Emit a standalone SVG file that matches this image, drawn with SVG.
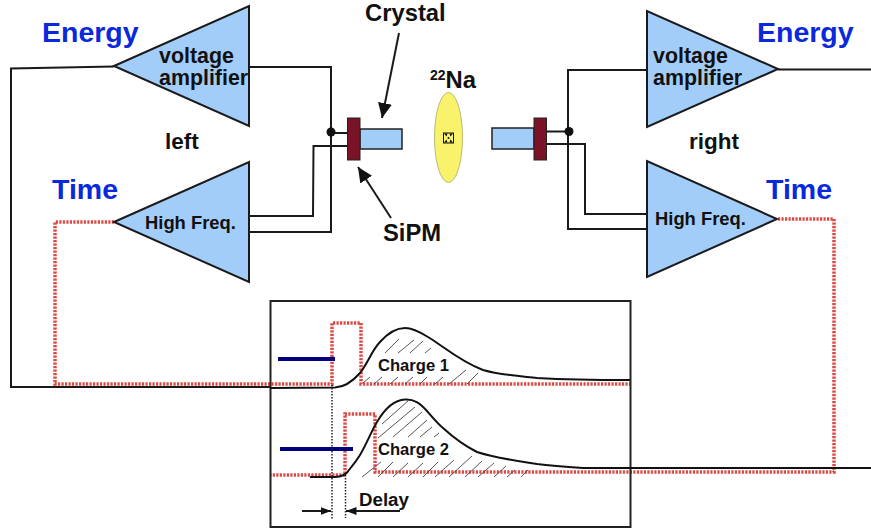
<svg xmlns="http://www.w3.org/2000/svg" width="871" height="530" viewBox="0 0 871 530">
<style>
text{font-family:"Liberation Sans",Arial,sans-serif;font-weight:bold;fill:#111}
.tri{fill:#a3cdf9;stroke:#1a1a1a;stroke-width:2;stroke-linejoin:miter}
.wire{fill:none;stroke:#1a1a1a;stroke-width:2}
.red{fill:none;stroke:#dc4a46;stroke-width:3.500;stroke-dasharray:2.200 1.300}
.hatch{fill:none;stroke:#444;stroke-width:.9}
.sig{fill:none;stroke:#111;stroke-width:2}
.base{fill:none;stroke:#00007f;stroke-width:4}
.vd{fill:none;stroke:#222;stroke-width:1.500;stroke-dasharray:1.500 1.500}
.blue{fill:#0a28dc;font-size:28.500px}
.amp{font-size:21.400px}
.hf{font-size:18.400px}
.lbl{font-size:23.800px}
.crys{fill:#a3cdf9;stroke:#222;stroke-width:1.500}
.sipm{fill:#7a1328;stroke:#222;stroke-width:1}
.q{font-size:16.600px}
</style>
<defs>
<marker id="ah" markerUnits="userSpaceOnUse" markerWidth="16" markerHeight="14" refX="15" refY="7" orient="auto"><path d="M0 0L15 7L0 14Z" fill="#111"/></marker>
<marker id="as" markerUnits="userSpaceOnUse" markerWidth="11" markerHeight="8" refX="10.500" refY="4" orient="auto"><path d="M0 0L10.500 4L0 8Z" fill="#111"/></marker>
</defs>
<g id="connectors">
<path class="wire" d="M114 66.500L11 68.500V387H270"/>
<path class="wire" d="M249 67H331V232H249"/>
<path class="wire" d="M331 133H348"/>
<path class="wire" d="M249 216H313L313.500 146H348"/>
<path class="wire" d="M647 70H568V229H647"/>
<path class="wire" d="M546 131.500H568"/>
<path class="wire" d="M546 144H585V214H647"/>
<path class="wire" d="M778 69.500H871"/>
<path class="red" d="M114 222H55V384H332V323H361V384H630"/>
<path class="red" d="M778 219H834V472H375V414H345V475H270"/>
<path class="wire" d="M399 33L382 118" marker-end="url(#ah)"/>
<path class="wire" d="M391 218L358 167" marker-end="url(#ah)"/>
<circle cx="331" cy="132" r="4.500" fill="#111"/>
<circle cx="569" cy="131.500" r="4.500" fill="#111"/>
</g>
<g id="amp-left-energy"><path class="tri" d="M114 66L249 6V126Z"/><text class="amp" x="159" y="63">voltage</text><text class="amp" x="159" y="85">amplifier</text></g>
<g id="amp-left-time"><path class="tri" d="M114 222L249 162V282Z"/><text class="hf" x="145" y="229">High Freq.</text></g>
<g id="amp-right-energy"><path class="tri" d="M647 11V127L778 69Z"/><text class="amp" x="653" y="63">voltage</text><text class="amp" x="653" y="85">amplifier</text></g>
<g id="amp-right-time"><path class="tri" d="M647 161V277L777 219Z"/><text class="hf" x="655" y="225">High Freq.</text></g>
<g id="detector-left"><rect class="crys" x="360" y="129" width="42" height="20"/><rect class="sipm" x="347.500" y="118" width="12.500" height="42"/></g>
<g id="detector-right"><rect class="crys" x="492" y="128" width="42" height="21"/><rect class="sipm" x="534" y="118" width="12.500" height="42"/></g>
<g id="source">
<ellipse cx="448.500" cy="137.500" rx="14" ry="45" fill="#f8f36a" stroke="#bdb97a" stroke-width="1"/>
<rect x="443.500" y="133" width="10" height="10" fill="#f8f36a" stroke="#111" stroke-width="1"/>
<path d="M444 133.500h3.500l-1 3zM453 133.500h-3.500l1 3zM444 142.500h3.500l-1-3zM453 142.500h-3.500l1-3z" fill="#111"/>
<circle cx="448.500" cy="138" r="1" fill="#111"/>
<text x="430" y="88" font-size="23.800"><tspan font-size="14" dy="-8">22</tspan><tspan dy="8">Na</tspan></text>
</g>
<g id="labels">
<text class="blue" x="42" y="42">Energy</text>
<text class="blue" x="757" y="42">Energy</text>
<text class="blue" x="52" y="199">Time</text>
<text class="blue" x="766" y="199">Time</text>
<text x="165" y="149" font-size="22.500">left</text>
<text x="689" y="149" font-size="22.500">right</text>
<text class="lbl" x="365" y="21">Crystal</text>
<text class="lbl" x="383" y="241">SiPM</text>
</g>
<g id="panel">
<rect x="270.500" y="301" width="360" height="226" fill="none" stroke="#222" stroke-width="2"/>
<path class="base" d="M278 359H335M280 449H353"/>
<path class="hatch" d="M385 353L399 339M398 353L414 340M410 353L423 341M425 353L431 348M363 383L370 377M374 384L382 377M390 384L398 377M405 384L413 377M420 384L427 377M435 384L443 377M449 384L466 370M467 384L478 373"/>
<path class="hatch" d="M382 424L408 401M378 438L415 407M393 437L422 412M408 437L427 420M420 437L432 427M434 437L439 433M362 477L381 462M378 477L393 462M393 477L408 463M408 477L423 463M423 477L438 462M435 477L454 460M449 477L472 456M465 477L482 461M478 477L494 463M494 477L506 466M507 477L515 470M521 477L528 470"/>
<path class="sig" d="M270 388L335 387.500C345 387 353 381 360 373C368 363 372 350 380 342C388 333 396 328 405 328C413 328 420 332 428 337C435 341 438 344 443 347C457 357 470 365 483 370C500 375 518 376 537 378C565 379.500 600 380 630 380"/>
<path class="sig" d="M310 477H335C342 477 346 475 349 470C353 465 357 460 360 455C367 443 371 432 377 422C384 410 394 400 405 399.500C414 399 420 403 427 411C433 418 438 424 443 428C454 438 465 446 477 452C495 458 518 461 537 464C552 466 567 467 583 468H871"/>
<path class="vd" d="M332 385V520M345.500 475V518"/>
<path class="wire" stroke-width="1.500" d="M302 511H331" marker-end="url(#as)"/>
<path class="wire" stroke-width="1.500" d="M400 511H346" marker-end="url(#as)"/>
<text class="q" x="378" y="371">Charge 1</text>
<text class="q" x="378" y="455">Charge 2</text>
<text x="359" y="506" font-size="18.700">Delay</text>
</g>
</svg>
